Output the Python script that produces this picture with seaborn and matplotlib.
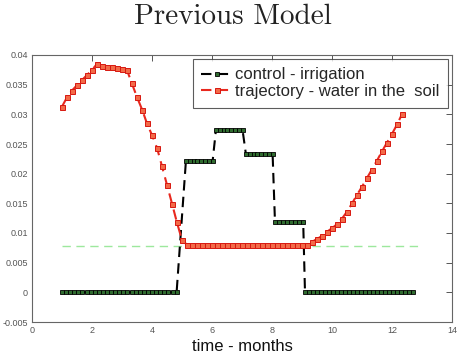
import numpy as np
import pandas as pd
import matplotlib
matplotlib.use("Agg")
import matplotlib.pyplot as plt
import seaborn as sns

# ---- data ----
red_t = [1.00, 1.17, 1.33, 1.50, 1.67, 1.83, 2.00, 2.17, 2.33, 2.50, 2.67, 2.83,
         3.00, 3.17, 3.33, 3.50, 3.67, 3.83, 4.00, 4.17, 4.33, 4.50, 4.67, 4.83,
         5.00, 5.17, 5.33, 5.50, 5.67, 5.83, 6.00, 6.17, 6.33, 6.50, 6.67, 6.83,
         7.00, 7.17, 7.33, 7.50, 7.67, 7.83, 8.00, 8.17, 8.33, 8.50, 8.67, 8.83,
         9.00, 9.17, 9.33, 9.50, 9.67, 9.83, 10.00, 10.17, 10.33, 10.50, 10.67,
         10.83, 11.00, 11.17, 11.33, 11.50, 11.67, 11.83, 12.00, 12.17, 12.33]
red_v = ([0.0313, 0.0329, 0.0340, 0.0349, 0.0358, 0.0366, 0.0375, 0.0385,
          0.0382, 0.0380, 0.0379, 0.0378, 0.0377, 0.0374, 0.0352, 0.0329,
          0.0308, 0.0285, 0.0265, 0.0243, 0.0213, 0.0181, 0.0149, 0.0118,
          0.0088]
         + [0.0080] * 25
         + [0.0085, 0.0090, 0.0095, 0.0102, 0.0108, 0.0115, 0.0124, 0.0136,
            0.0150, 0.0164, 0.0178, 0.0193, 0.0207, 0.0222, 0.0238, 0.0252,
            0.0267, 0.0283, 0.0300])

# control (irrigation): piecewise-constant segments
ctrl_start = [1.00, 5.13, 6.13, 7.13, 8.10, 9.10]
ctrl_end = [4.82, 6.02, 7.02, 8.02, 9.04, 12.69]
ctrl_level = [0.0, 0.0221, 0.0273, 0.0233, 0.0118, 0.0]

ref_t = [1.0, 13.0]
ref_v = [0.0078, 0.0078]

x_ticks = [0, 2, 4, 6, 8, 10, 12, 14]
y_ticks = [-0.005, 0, 0.005, 0.01, 0.015, 0.02, 0.025, 0.03, 0.035, 0.04]
y_labels = ['-0.005', '0', '0.005', '0.01', '0.015', '0.02', '0.025', '0.03', '0.035', '0.04']

# ---- build tables ----
ct, cv = [], []
for s, e, lv in zip(ctrl_start, ctrl_end, ctrl_level):
    n = int(round((e - s) / 0.135)) + 1
    pts = np.linspace(s, e, n)
    ct.extend(pts)
    cv.extend([lv] * n)
df_ctrl = pd.DataFrame({'t': ct, 'v': cv})
df_red = pd.DataFrame({'t': red_t, 'v': red_v})
df_ref = pd.DataFrame({'t': ref_t, 'v': ref_v})

sns.set_style('white')
plt.rcParams['font.family'] = ['Liberation Sans', 'DejaVu Sans']

fig = plt.figure(figsize=(4.6, 3.57), dpi=100)
ax = fig.add_axes([32 / 460, 1 - 322 / 357, 420 / 460, 267 / 357])

sns.lineplot(data=df_ref, x='t', y='v', ax=ax, color='#9de89d', linewidth=1.0,
             dashes=False, sort=False, estimator=None, legend=False)
ax.lines[-1].set_dashes((6, 4))

sns.lineplot(data=df_ctrl, x='t', y='v', ax=ax, color='black', linewidth=1.5,
             marker='s', markersize=3.2, markerfacecolor='#2f6b2f',
             markeredgecolor='black', markeredgewidth=0.6,
             sort=False, estimator=None, label='control - irrigation')
ax.lines[-1].set_dashes((5, 3))

sns.lineplot(data=df_red, x='t', y='v', ax=ax, color='#e8281e', linewidth=1.5,
             marker='s', markersize=3.6, markerfacecolor='#f26a48',
             markeredgecolor='#d81810', markeredgewidth=0.7,
             sort=False, estimator=None, label='trajectory - water in the  soil')
ax.lines[-1].set_dashes((5, 3))

ax.set_xlim(0, 14)
ax.set_ylim(-0.005, 0.04)
ax.set_xticks(x_ticks)
ax.set_xticklabels([str(v) for v in x_ticks])
ax.set_yticks(y_ticks)
ax.set_yticklabels(y_labels)
ax.tick_params(direction='in', length=4, width=0.7, colors='#555555',
               labelsize=6.5, top=True, right=True, pad=3)
for sp in ax.spines.values():
    sp.set_visible(True)
    sp.set_color('#666666')
    sp.set_linewidth(0.8)

ax.set_xlabel('time - months', fontsize=12, labelpad=3, color='#111111')
ax.set_ylabel('')

leg = ax.legend(loc='upper right', fontsize=12, frameon=True, fancybox=False,
                edgecolor='#333333', borderaxespad=0.25, handlelength=1.9,
                handletextpad=0.15, borderpad=0.5, labelspacing=0.1)
leg.get_frame().set_linewidth(0.8)

fig.text(233 / 460, 1 - 17 / 357, 'Previous Model', family='cmr10', fontsize=21,
         ha='center', va='center', color='#222222')

fig.savefig('out.png', dpi=100)
